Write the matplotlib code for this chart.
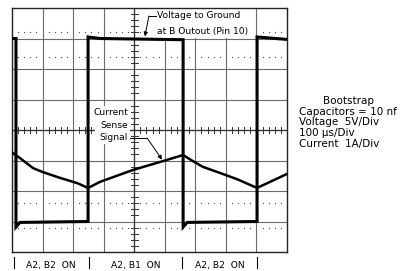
import numpy as np
import matplotlib
matplotlib.use("Agg")
import matplotlib.pyplot as plt
from matplotlib.patches import Rectangle

# waveform data, in scope divisions (x: 0..9, y: -4..4)
volt_x = [0.0, 0.13, 0.13, 0.26, 2.49, 2.49, 2.88, 5.60, 5.60, 5.73, 8.02, 8.02, 9.0]
volt_y = [3.0, 3.0, -3.18, -3.03, -3.0, 3.05, 3.0, 2.96, -3.18, -3.03, -3.0, 3.05, 2.97]

curr_x = [0.02, 0.26, 0.69, 1.01, 1.57, 2.13, 2.49, 2.88, 3.96, 4.94, 5.60,
          5.92, 6.25, 6.81, 7.36, 8.02, 9.0]
curr_y = [-0.75, -0.92, -1.25, -1.38, -1.57, -1.74, -1.90, -1.70, -1.31, -1.02, -0.82,
          -1.02, -1.21, -1.41, -1.61, -1.90, -1.44]

# switching phases along the bottom
phase_edges = [0.05, 2.52, 5.55, 8.02]
phase_labels = ["A2, B2  ON", "A2, B1  ON", "A2, B2  ON"]

settings = ["Capacitors = 10 nf", "Voltage  5V/Div", "100 \u03bcs/Div", "Current  1A/Div"]

FS = 6.6
FS_SIDE = 7.5
plt.rcParams["font.family"] = ["DejaVu Sans"]

fig = plt.figure(figsize=(4.02, 2.71), dpi=100)
ax = fig.add_axes([12 / 402, 19 / 271, 275 / 402, 244 / 271])
ax.set_xlim(0, 9)
ax.set_ylim(-4, 4)
ax.set_xticks([])
ax.set_yticks([])
for sp in ax.spines.values():
    sp.set_color("#222222")
    sp.set_linewidth(1.0)

# graticule
grid_c = "#6a6a6a"
for gx in range(1, 9):
    ax.axvline(gx, color=grid_c, lw=0.8, zorder=1)
for gy in range(-3, 4):
    ax.axhline(gy, color=grid_c, lw=0.8, zorder=1)

# dotted rows
dots = [x for x in np.arange(0.2, 9, 0.2) if abs(x - round(x)) > 0.05]
for dy in [3.2, 2.4, -2.4, -3.2]:
    ax.plot(dots, [dy] * len(dots), ls="none", marker="s", ms=0.8,
            mec="none", color="#444444", zorder=1)

# center axes with small ticks
ax.axvline(4, color="#333333", lw=0.9, zorder=1)
ax.axhline(0, color="#333333", lw=0.9, zorder=1)
for t in np.arange(0.2, 9, 0.2):
    if abs(t - round(t)) > 0.05:
        ax.plot([t, t], [-0.09, 0.09], color="#333333", lw=0.7, zorder=1)
for t in np.arange(-3.8, 4, 0.2):
    if abs(t - round(t)) > 0.05:
        ax.plot([3.89, 4.11], [t, t], color="#333333", lw=0.7, zorder=1)

# white boxes behind labels
ax.add_patch(Rectangle((4.55, 3.03), 3.38, 0.97, facecolor="white",
                       edgecolor="none", zorder=2))
ax.add_patch(Rectangle((2.72, -0.45), 1.15, 1.25, facecolor="white",
                       edgecolor="none", zorder=2))

# waveforms
ax.plot(volt_x, volt_y, color="black", lw=2.2, solid_joinstyle="miter", zorder=4)
ax.plot(curr_x, curr_y, color="black", lw=1.8, zorder=4)

# annotations
ax.text(4.74, 3.74, "Voltage to Ground", fontsize=FS, va="center", ha="left", zorder=5)
ax.text(4.74, 3.22, "at B Outout (Pin 10)", fontsize=FS, va="center", ha="left", zorder=5)
ax.plot([4.72, 4.48], [3.74, 3.74], color="black", lw=0.7, zorder=5)
ax.annotate("", xy=(4.35, 3.07), xytext=(4.48, 3.74),
            arrowprops=dict(arrowstyle="-|>", color="black", lw=0.7,
                            mutation_scale=6, shrinkA=0, shrinkB=0), zorder=5)

for txt, ty in zip(["Current", "Sense", "Signal"], [0.56, 0.16, -0.26]):
    ax.text(3.8, ty, txt, fontsize=FS, va="center", ha="right", zorder=5)
ax.plot([3.86, 4.42], [-0.26, -0.26], color="black", lw=0.7, zorder=5)
ax.annotate("", xy=(4.91, -0.97), xytext=(4.42, -0.26),
            arrowprops=dict(arrowstyle="-|>", color="black", lw=0.7,
                            mutation_scale=6, shrinkA=0, shrinkB=0), zorder=5)

# phase labels below the screen
for ex in phase_edges:
    ax.plot([ex, ex], [-4.16, -4.52], color="black", lw=0.8, clip_on=False)
for i, lab in enumerate(phase_labels):
    cx = (phase_edges[i] + phase_edges[i + 1]) / 2
    ax.text(cx, -4.44, lab, fontsize=FS, ha="center", va="center", clip_on=False)

# settings block on the right
fig.text(349 / 402, 1 - 101 / 271, "Bootstrap", fontsize=FS_SIDE, ha="center", va="center")
for i, s in enumerate(settings):
    fig.text(299 / 402, 1 - (111.7 + 10.6 * i) / 271, s, fontsize=FS_SIDE,
             ha="left", va="center")

fig.savefig("out.png", dpi=100)
